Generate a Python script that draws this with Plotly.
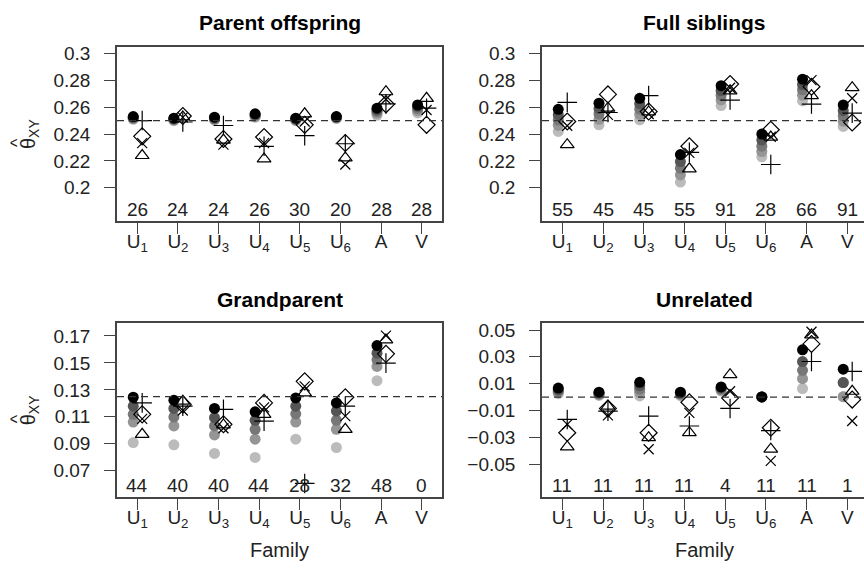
import plotly.graph_objects as go

# Families on the x axis
families = ["U1", "U2", "U3", "U4", "U5", "U6", "A", "V"]
family_labels = ["U<sub>1</sub>", "U<sub>2</sub>", "U<sub>3</sub>", "U<sub>4</sub>",
                 "U<sub>5</sub>", "U<sub>6</sub>", "A", "V"]

# Grey levels of the stacked filled-circle estimates (darkest first)
circle_greys = ["#000000", "#555555", "#777777", "#959595", "#bbbbbb"]

# ---- Parent offspring ----
po_counts = [26, 24, 24, 26, 30, 20, 28, 28]
po_circles = [
    [0.2531, 0.2519, 0.2526, 0.2551, 0.2519, 0.2531, 0.2593, 0.2617],
    [0.2525, 0.2515, 0.2520, 0.2545, 0.2515, 0.2527, 0.2580, 0.2605],
    [0.2520, 0.2510, 0.2515, 0.2540, 0.2510, 0.2523, 0.2568, 0.2590],
    [0.2515, 0.2505, 0.2510, 0.2532, 0.2505, 0.2520, 0.2555, 0.2575],
    [0.2510, 0.2500, 0.2505, 0.2525, 0.2500, 0.2517, 0.2540, 0.2558],
]
po_plus = [0.2501, 0.2490, 0.2464, 0.2309, 0.2388, 0.2328, 0.2625, 0.2593]
po_diamond = [0.2383, 0.2535, 0.2363, 0.2378, 0.2469, 0.2333, 0.2622, 0.2469]
po_cross = [0.2333, 0.2525, 0.2321, 0.2333, 0.2494, 0.2173, 0.2660, 0.2580]
po_triangle = [0.2240, 0.2528, 0.2355, 0.2215, 0.2551, 0.2222, 0.2716, 0.2667]

# ---- Full siblings ----
fs_counts = [55, 45, 45, 55, 91, 28, 66, 91]
fs_circles = [
    [0.2585, 0.2630, 0.2667, 0.2247, 0.2761, 0.2400, 0.2810, 0.2617],
    [0.2545, 0.2590, 0.2627, 0.2195, 0.2725, 0.2355, 0.2770, 0.2575],
    [0.2505, 0.2550, 0.2587, 0.2145, 0.2690, 0.2310, 0.2730, 0.2535],
    [0.2465, 0.2510, 0.2547, 0.2095, 0.2655, 0.2270, 0.2690, 0.2495],
    [0.2420, 0.2469, 0.2506, 0.2042, 0.2613, 0.2230, 0.2647, 0.2457],
]
fs_plus = [0.2637, 0.2561, 0.2687, 0.2264, 0.2654, 0.2173, 0.2624, 0.2556]
fs_diamond = [0.2494, 0.2696, 0.2568, 0.2309, 0.2773, 0.2432, 0.2753, 0.2486]
fs_cross = [0.2462, 0.2543, 0.2550, 0.2260, 0.2746, 0.2380, 0.2802, 0.2667]
fs_triangle = [0.2321, 0.2593, 0.2565, 0.2141, 0.2723, 0.2378, 0.2687, 0.2746]

# ---- Grandparent ----
gp_counts = [44, 40, 40, 44, 28, 32, 48, 0]
gp_circles = [
    [0.1245, 0.1223, 0.1162, 0.1137, 0.1240, 0.1203, 0.1629, None],
    [0.1179, 0.1162, 0.1093, 0.1074, 0.1179, 0.1142, 0.1572, None],
    [0.1118, 0.1098, 0.1032, 0.1007, 0.1122, 0.1074, 0.1523, None],
    [0.1061, 0.1032, 0.0965, 0.0934, 0.1061, 0.1007, 0.1474, None],
    [0.0909, 0.0892, 0.0828, 0.0798, 0.0934, 0.0872, 0.1368, None],
]
gp_plus = [0.1203, 0.1179, 0.1155, 0.1068, 0.0605, 0.1179, 0.1498, None]
gp_diamond = [0.1118, 0.1192, 0.1044, 0.1203, 0.1363, 0.1245, 0.1567, None]
gp_cross = [0.1085, 0.1147, 0.1015, 0.1170, 0.1326, 0.1105, 0.1702, None]
gp_triangle = [0.0970, 0.1216, 0.1040, 0.1118, 0.1277, 0.1007, 0.1671, None]

# ---- Unrelated ----
ur_counts = [11, 11, 11, 11, 4, 11, 11, 1]
ur_circles = [
    [0.0067, 0.0036, 0.0110, 0.0036, 0.0075, 0.0001, 0.0352, 0.0208],
    [0.0055, 0.0030, 0.0085, 0.0030, 0.0068, 0.0001, 0.0265, 0.0108],
    [0.0045, 0.0024, 0.0060, 0.0024, 0.0060, 0.0001, 0.0199, 0.0108],
    [0.0035, 0.0018, 0.0035, 0.0018, 0.0052, 0.0001, 0.0137, 0.0003],
    [0.0025, 0.0012, 0.0008, 0.0010, 0.0045, 0.0001, 0.0063, 0.0003],
]
ur_plus = [-0.0167, -0.0105, -0.0142, -0.0216, -0.0085, -0.0250, 0.0265, 0.0191]
ur_diamond = [-0.0266, -0.0085, -0.0266, -0.0039, -0.0007, -0.0229, 0.0396, -0.0019]
ur_cross = [-0.0204, -0.0137, -0.0389, -0.0118, 0.0043, -0.0476, 0.0487, -0.0179]
ur_triangle = [-0.0372, -0.0068, -0.0303, -0.0266, 0.0167, -0.0389, 0.0463, 0.0043]

# Y tick values / labels per panel
top_ticks = [0.2, 0.22, 0.24, 0.26, 0.28, 0.3]
top_ticklabels = ["0.2", "0.22", "0.24", "0.26", "0.28", "0.3"]
gp_ticks = [0.07, 0.09, 0.11, 0.13, 0.15, 0.17]
gp_ticklabels = ["0.07", "0.09", "0.11", "0.13", "0.15", "0.17"]
ur_ticks = [-0.05, -0.03, -0.01, 0.01, 0.03, 0.05]
ur_ticklabels = ["\u22120.05", "\u22120.03", "\u22120.01", "0.01", "0.03", "0.05"]

W, H = 864, 568
FONT = "Liberation Sans, Arial, sans-serif"
INK = "#222222"
FRAME = "#444444"

panels = [
    dict(title="Parent offspring", counts=po_counts, circles=po_circles,
         plus=po_plus, diamond=po_diamond, cross=po_cross, triangle=po_triangle,
         ref=0.25, ticks=top_ticks, ticklabels=top_ticklabels,
         yrange=[0.1748, 0.3052], box=(117, 442, 43, 219), xr=[0.5, 8.5], right=False),
    dict(title="Full siblings", counts=fs_counts, circles=fs_circles,
         plus=fs_plus, diamond=fs_diamond, cross=fs_cross, triangle=fs_triangle,
         ref=0.25, ticks=top_ticks, ticklabels=top_ticklabels,
         yrange=[0.1748, 0.3052], box=(542, 864, 43, 219), xr=[0.5, 8.41], right=True),
    dict(title="Grandparent", counts=gp_counts, circles=gp_circles,
         plus=gp_plus, diamond=gp_diamond, cross=gp_cross, triangle=gp_triangle,
         ref=0.125, ticks=gp_ticks, ticklabels=gp_ticklabels,
         yrange=[0.0503, 0.1793], box=(117, 442, 321.7, 496.7), xr=[0.5, 8.5], right=False),
    dict(title="Unrelated", counts=ur_counts, circles=ur_circles,
         plus=ur_plus, diamond=ur_diamond, cross=ur_cross, triangle=ur_triangle,
         ref=0.0, ticks=ur_ticks, ticklabels=ur_ticklabels,
         yrange=[-0.0747, 0.0549], box=(542, 864, 321.7, 496.7), xr=[0.5, 8.41], right=True),
]

fig = go.Figure()
xpos = list(range(1, len(families) + 1))
circle_dx = -0.1
symbol_dx = 0.12

annotations = []
shapes = []
layout_axes = {}

for k, p in enumerate(panels):
    idx = "" if k == 0 else str(k + 1)
    xa, ya = "x" + idx, "y" + idx
    x0, x1, y0, y1 = p["box"]

    # stacked filled circles, lightest first so the black one sits on top
    for level in reversed(range(len(p["circles"]))):
        fig.add_trace(go.Scatter(
            x=[x + circle_dx for x in xpos], y=p["circles"][level],
            mode="markers", xaxis=xa, yaxis=ya, showlegend=False,
            marker=dict(symbol="circle", size=11, color=circle_greys[level],
                        line=dict(width=0)),
        ))

    # open symbols
    for key, sym, size in [("triangle", "triangle-up-open", 12),
                           ("diamond", "diamond-open", 13),
                           ("cross", "x-thin-open", 10),
                           ("plus", "cross-thin-open", 14)]:
        fig.add_trace(go.Scatter(
            x=[x + symbol_dx for x in xpos], y=p[key],
            mode="markers", xaxis=xa, yaxis=ya, showlegend=False,
            marker=dict(symbol=sym, size=size, color="black",
                        line=dict(width=1.2, color="black")),
        ))

    layout_axes["xaxis" + idx] = dict(
        domain=[x0 / W, x1 / W], range=p["xr"], anchor=ya,
        tickvals=xpos, ticktext=family_labels, ticks="outside", ticklen=11,
        tickwidth=1.3, tickcolor=FRAME, showline=True, linecolor=FRAME,
        linewidth=1.5, mirror=True, showgrid=False, zeroline=False,
        tickfont=dict(family=FONT, size=19, color=INK), ticklabelstandoff=-9,
    )
    layout_axes["yaxis" + idx] = dict(
        domain=[1 - y1 / H, 1 - y0 / H], range=p["yrange"], anchor=xa,
        tickvals=p["ticks"], ticktext=p["ticklabels"], ticks="outside", ticklen=11,
        tickwidth=1.3, tickcolor=FRAME, showline=True, linecolor=FRAME,
        linewidth=1.5, mirror=not p["right"], showgrid=False, zeroline=False,
        tickfont=dict(family=FONT, size=19, color=INK), ticklabelstandoff=10,
    )

    # reference line
    shapes.append(dict(type="line", xref=xa + " domain", yref=ya,
                       x0=0, x1=1, y0=p["ref"], y1=p["ref"],
                       line=dict(color="#333333", width=1.3, dash="7px,5px")))

    # family counts along the bottom of each panel
    for x, n in zip(xpos, p["counts"]):
        annotations.append(dict(x=x, y=0.07, xref=xa, yref=ya + " domain",
                                text=str(n), showarrow=False, yanchor="middle",
                                font=dict(family=FONT, size=19, color=INK)))

    # panel title
    full_right = 867 if p["right"] else x1
    cx = (x0 + full_right) / 2
    annotations.append(dict(x=cx / W, y=1 - (y0 - 24) / H, xref="paper", yref="paper",
                            text="<b>" + p["title"] + "</b>", showarrow=False,
                            xanchor="center", yanchor="middle",
                            font=dict(family=FONT, size=21, color="black")))

    # y axis title on the left column: theta with a hat, subscript XY
    if not p["right"]:
        ymid = (y0 + y1) / 2
        annotations.append(dict(x=29 / W, y=1 - ymid / H, xref="paper",
                                yref="paper", text="\u03b8<sub>XY</sub>",
                                showarrow=False, textangle=-90,
                                xanchor="center", yanchor="middle",
                                font=dict(family=FONT, size=20, color=INK)))
        annotations.append(dict(x=17 / W, y=1 - (ymid + 9) / H, xref="paper",
                                yref="paper", text="^",
                                showarrow=False, textangle=-90,
                                xanchor="center", yanchor="middle",
                                font=dict(family=FONT, size=18, color=INK)))

    # x axis title on the bottom row
    if k >= 2:
        annotations.append(dict(x=cx / W, y=1 - 550 / H, xref="paper", yref="paper",
                                text="Family", showarrow=False,
                                xanchor="center", yanchor="middle",
                                font=dict(family=FONT, size=20, color=INK)))

fig.update_layout(
    width=W, height=H, margin=dict(l=0, r=0, t=0, b=0),
    paper_bgcolor="white", plot_bgcolor="white",
    annotations=annotations, shapes=shapes, **layout_axes,
)

fig.write_html("out.html")
